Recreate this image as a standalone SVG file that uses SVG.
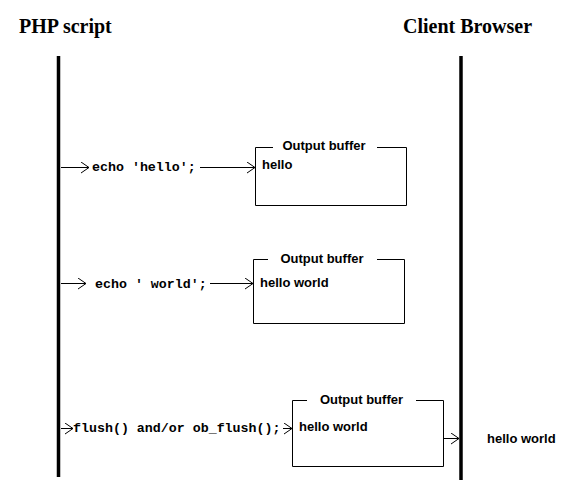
<svg xmlns="http://www.w3.org/2000/svg" width="582" height="484" viewBox="0 0 582 484">
<defs>
<marker id="ah" markerWidth="10" markerHeight="12" refX="9" refY="6" orient="auto" markerUnits="userSpaceOnUse">
<path d="M1,0.5 L9,6 L1,11.5" fill="none" stroke="#000" stroke-width="1"/>
</marker>
<style>
.title{font-family:"Liberation Serif","Times New Roman",serif;font-weight:bold;font-size:20px;fill:#000}
.code{font-family:"Liberation Mono","Courier New",monospace;font-weight:bold;font-size:13.3px;fill:#000}
.lbl{font-family:"Liberation Sans",Arial,sans-serif;font-weight:bold;font-size:13px;fill:#000}
.box{fill:none;stroke:#000;stroke-width:1}
.life{stroke:#000;stroke-width:3.5}
.conn{stroke:#000;stroke-width:1;fill:none;marker-end:url(#ah)}
</style>
</defs>
<rect width="582" height="484" fill="#fff"/>
<g id="php">
<text class="title" x="19" y="33">PHP script</text>
<line class="life" x1="58.5" y1="56" x2="58.5" y2="477"/>
</g>
<g id="browser">
<text class="title" x="403" y="33">Client Browser</text>
<line class="life" x1="461" y1="56" x2="461" y2="480"/>
</g>
<g id="buffer1">
<path class="box" d="M273,147.5 H255.5 V205.5 H406.5 V147.5 H377"/>
<text class="lbl" x="324" y="150" text-anchor="middle">Output buffer</text>
<text class="lbl" x="262" y="169">hello</text>
</g>
<g id="buffer2">
<path class="box" d="M268,259.5 H253.5 V323.5 H404.5 V259.5 H377"/>
<text class="lbl" x="322" y="263" text-anchor="middle">Output buffer</text>
<text class="lbl" x="260" y="287">hello world</text>
</g>
<g id="buffer3">
<path class="box" d="M307,400.5 H292.5 V466.5 H443.5 V400.5 H416"/>
<text class="lbl" x="361.5" y="404" text-anchor="middle">Output buffer</text>
<text class="lbl" x="299" y="431">hello world</text>
</g>
<g id="stmt1"><text class="code" x="92" y="171">echo 'hello';</text></g>
<g id="stmt2"><text class="code" x="95" y="288">echo ' world';</text></g>
<g id="stmt3"><text class="code" x="73" y="432">flush() and/or ob_flush();</text></g>
<g id="result"><text class="lbl" x="487" y="443">hello world</text></g>
<g id="connectors">
<line class="conn" x1="61" y1="167.5" x2="89" y2="167.5"/>
<line class="conn" x1="200" y1="167.5" x2="255" y2="167.5"/>
<line class="conn" x1="61" y1="283.5" x2="86" y2="283.5"/>
<line class="conn" x1="210" y1="283.5" x2="253" y2="283.5"/>
<line class="conn" x1="61" y1="428.5" x2="73" y2="428.5"/>
<line class="conn" x1="283" y1="428.5" x2="292" y2="428.5"/>
<line class="conn" x1="443" y1="438.5" x2="459" y2="438.5"/>
</g>
</svg>
